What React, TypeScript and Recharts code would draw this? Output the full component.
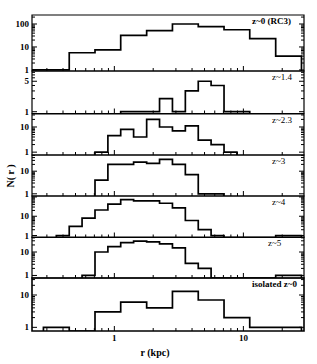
import React from "react";
import { LineChart, Line, XAxis, YAxis, ReferenceArea } from "recharts";

// radius ticks (kpc)
const rTicks = [0.3, 0.4, 0.5, 0.6, 0.7, 0.8, 0.9, 1, 2, 3, 4, 5, 6, 7, 8, 9, 10, 20];
const rLabels = [1, 10];
const rDomain = [0.23, 29.5];

// bin edges and counts per sample
const rc3Edges = [0.23, 0.282, 0.447, 0.708, 1.12, 1.78, 2.82, 4.47, 7.08, 11.2, 17.8, 28.2];
const rc3Counts = [1, 1, 5.6, 7.4, 32, 51, 100, 76, 56, 23, 4];

const z14Edges = [1.12, 1.41, 1.78, 2.24, 2.82, 3.55, 4.47, 5.62, 7.08, 8.91, 11.2];
const z14Counts = [1, 1, 1, 2, 1, 3, 5, 4, 1, 1];

const z23Edges = [0.708, 0.891, 1.12, 1.41, 1.78, 2.24, 2.82, 3.55, 4.47, 5.62, 7.08, 8.91];
const z23Counts = [1, 4.5, 8, 4, 20, 10, 7, 11, 3, 2, 1];

const z3Edges = [0.708, 0.891, 1.12, 1.41, 1.78, 2.24, 2.82, 3.55, 4.47, 5.62, 7.08];
const z3Counts = [4, 20, 20, 25, 22, 33, 20, 7, 1, 1];

const z4Edges = [0.355, 0.447, 0.562, 0.708, 0.891, 1.12, 1.41, 1.78, 2.24, 2.82, 3.55, 4.47, 5.62, 7.08, 8.91, 11.2, 14.1, 17.8, 22.4, 28.2];
const z4Counts = [1, 3, 8, 21, 42, 73, 63, 63, 47, 27, 6, 2, 1, 0, 0, 0, 0, 1, 1];

const z5Edges = [0.562, 0.708, 0.891, 1.12, 1.41, 1.78, 2.24, 2.82, 3.55, 4.47, 5.62, 7.08, 8.91, 11.2, 14.1, 17.8, 22.4, 28.2];
const z5Counts = [1, 10, 17, 25, 29, 27, 22, 15, 3.3, 2, 0, 0, 0, 0, 0, 1, 1];

const isoEdges = [0.282, 0.447, 0.708, 1.12, 1.78, 2.82, 4.47, 7.08, 11.2, 17.8, 28.2];
const isoCounts = [1, 0, 3, 6, 4, 13, 7, 2, 1, 1];

const panelLabels = ["z~0 (RC3)", "z~1.4", "z~2.3", "z~3", "z~4", "z~5", "isolated z~0"];

const FONT = "'Liberation Serif', 'DejaVu Serif', serif";
const PAD = 5;
const W = 317;
const LEFT_W = 32;
const RIGHT_W = 13;

const logTicks = [1, 2, 3, 4, 5, 6, 7, 8, 9, 10, 20, 30, 40, 50, 60, 70, 80, 90, 100, 200];

const panels = [
  { edges: rc3Edges, counts: rc3Counts, top: 15, bottom: 71, domain: [0.9, 246], labels: [1, 10, 100], labelX: 252, bold: true },
  { edges: z14Edges, counts: z14Counts, top: 71, bottom: 113.5, domain: [0.91, 8.6], labels: [1, 5], labelX: 272, bold: false },
  { edges: z23Edges, counts: z23Counts, top: 113.5, bottom: 154.5, domain: [0.77, 32.8], labels: [1, 10], labelX: 272, bold: false },
  { edges: z3Edges, counts: z3Counts, top: 154.5, bottom: 195.5, domain: [0.8, 52], labels: [1, 10], labelX: 272, bold: false },
  { edges: z4Edges, counts: z4Counts, top: 195.5, bottom: 237, domain: [0.79, 112], labels: [1, 10], labelX: 272, bold: false },
  { edges: z5Edges, counts: z5Counts, top: 237, bottom: 278, domain: [0.78, 43.6], labels: [1, 10], labelX: 268, bold: false },
  { edges: isoEdges, counts: isoCounts, top: 278, bottom: 331, domain: [0.77, 33.6], labels: [1, 10], labelX: 252, bold: true },
];

// outline of a histogram for a stepAfter line, touching the floor at both ends
function stepPoints(edges: number[], counts: number[], floor: number) {
  const pts = [{ x: edges[0], y: floor }];
  counts.forEach((c, i) => pts.push({ x: edges[i], y: c > floor ? c : floor }));
  pts.push({ x: edges[edges.length - 1], y: floor });
  return pts;
}

const makeXTick = (showLabel: boolean) => (props: any) => {
  const { x, y, payload } = props;
  const major = rLabels.includes(payload.value);
  return (
    <g>
      <line x1={x} x2={x} y1={y} y2={y - (major ? 5 : 3)} stroke="#000" strokeWidth={1} />
      {showLabel && major && (
        <text x={x} y={y + 10} textAnchor="middle" fontFamily={FONT} fontWeight="bold" fontSize={9} fill="#000">
          {payload.value}
        </text>
      )}
    </g>
  );
};

const makeYTick = (labels: number[], side: "left" | "right") => (props: any) => {
  const { x, y, payload } = props;
  const major = labels.includes(payload.value) || [1, 10, 100].includes(payload.value);
  const len = major ? 5 : 3;
  const dir = side === "left" ? 1 : -1;
  return (
    <g>
      <line x1={x} x2={x + dir * len} y1={y} y2={y} stroke="#000" strokeWidth={1} />
      {side === "left" && labels.includes(payload.value) && (
        <text x={x - 3} y={y + 3} textAnchor="end" fontFamily={FONT} fontWeight="bold" fontSize={9} fill="#000">
          {payload.value}
        </text>
      )}
    </g>
  );
};

function Panel({ p, index }: { p: (typeof panels)[number]; index: number }) {
  const last = index === panels.length - 1;
  const h = p.bottom - p.top;
  const extra = last ? 30 : 0;
  const data = stepPoints(p.edges, p.counts, p.domain[0]);
  const ticks = logTicks.filter((t) => t >= p.domain[0] && t <= p.domain[1]);
  return (
    <div style={{ position: "absolute", left: 0, top: p.top - PAD - 1 }}>
      <LineChart
        width={W}
        height={h + 2 * PAD + extra + 2}
        data={data}
        margin={{ top: PAD, right: 0, bottom: PAD + extra, left: 0 }}
      >
        <XAxis
          dataKey="x"
          type="number"
          scale="log"
          domain={rDomain}
          allowDataOverflow
          ticks={rTicks}
          interval={0}
          height={1}
          tickSize={0}
          tickMargin={0}
          tickLine={false}
          axisLine={false}
          tick={makeXTick(last)}
        />
        <XAxis
          xAxisId="top"
          orientation="top"
          dataKey="x"
          type="number"
          scale="log"
          domain={rDomain}
          allowDataOverflow
          height={1}
          tick={false}
          tickLine={false}
          axisLine={false}
        />
        <YAxis
          yAxisId="l"
          type="number"
          scale="log"
          domain={p.domain}
          allowDataOverflow
          ticks={ticks}
          interval={0}
          width={LEFT_W}
          tickSize={0}
          tickMargin={0}
          tickLine={false}
          axisLine={false}
          tick={makeYTick(p.labels, "left")}
        />
        <YAxis
          yAxisId="r"
          orientation="right"
          type="number"
          scale="log"
          domain={p.domain}
          allowDataOverflow
          ticks={ticks}
          interval={0}
          width={RIGHT_W}
          tickSize={0}
          tickMargin={0}
          tickLine={false}
          axisLine={false}
          tick={makeYTick(p.labels, "right")}
        />
        <ReferenceArea
          yAxisId="l"
          x1={rDomain[0]}
          x2={rDomain[1]}
          y1={p.domain[0]}
          y2={p.domain[1]}
          fill="none"
          fillOpacity={0}
          stroke="#000"
          strokeWidth={last ? 1.6 : 1.2}
          ifOverflow="visible"
        />
        <Line
          yAxisId="l"
          dataKey="y"
          type="stepAfter"
          stroke="#000"
          strokeWidth={1.7}
          dot={false}
          isAnimationActive={false}
        />
      </LineChart>
      <div
        style={{
          position: "absolute",
          left: p.labelX,
          top: PAD + 2,
          fontFamily: FONT,
          fontSize: 9,
          fontWeight: p.bold ? "bold" : "normal",
          lineHeight: "10px",
          whiteSpace: "nowrap",
          color: "#000",
        }}
      >
        {panelLabels[index]}
      </div>
    </div>
  );
}

export default function App() {
  return (
    <div style={{ position: "absolute", left: 0, top: 0, width: W, height: 364, background: "#fff" }}>
      {panels.map((p, i) => (
        <Panel key={i} p={p} index={i} />
      ))}
      <div
        style={{
          position: "absolute",
          left: 10,
          top: 176,
          transform: "translate(-50%, -50%) rotate(-90deg)",
          fontFamily: FONT,
          fontWeight: "bold",
          fontSize: 10,
          whiteSpace: "nowrap",
        }}
      >
        N( r )
      </div>
      <div
        style={{
          position: "absolute",
          left: 155,
          top: 352,
          transform: "translate(-50%, -50%)",
          fontFamily: FONT,
          fontWeight: "bold",
          fontSize: 10,
          whiteSpace: "nowrap",
        }}
      >
        r (kpc)
      </div>
    </div>
  );
}
